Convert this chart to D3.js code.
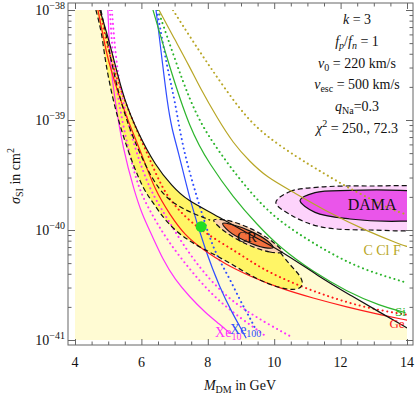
<!DOCTYPE html>
<meta charset="utf-8">
<head>
<title>Light dark matter: sigma_SI vs M_DM</title>
<script src="https://d3js.org/d3.v7.min.js"></script>
<style>
  body { margin: 0; background: #fff; }
  text { font-family: "Liberation Serif", "DejaVu Serif", serif; fill: #111; }
</style>
</head>
<body>
<div id="chart"></div>
<script>
// every point is [M_DM in GeV, log10(sigma_SI / cm^2)]

// upper edge of the allowed (light yellow) area
let exclusion = [[4.75,-38.00],[4.96,-38.21],[5.17,-38.45],[5.48,-38.82],[5.90,-39.12],[6.41,-39.41],[6.92,-39.60],[7.37,-39.73],[8.16,-39.85],[9.12,-40.02],[10.17,-40.18],[11.38,-40.43],[12.28,-40.59],[13.19,-40.75],[14.00,-40.89]];

// bright yellow 3 sigma band, left/bottom dashed edge
let band = [[4.63,-38.00],[4.81,-38.21],[4.90,-38.45],[5.14,-38.82],[5.42,-39.12],[5.75,-39.41],[6.08,-39.64],[6.35,-39.75],[6.77,-39.94],[7.37,-40.09],[7.92,-40.18],[8.67,-40.30],[9.48,-40.45],[10.17,-40.53],[10.69,-40.55],[10.90,-40.50],[10.78,-40.41],[10.48,-40.32],[10.17,-40.20]];
let bandInner = [[4.78,-38.00],[4.93,-38.21],[5.08,-38.45],[5.36,-38.82],[5.69,-39.12],[6.11,-39.41],[6.53,-39.64],[7.01,-39.77],[7.55,-39.85],[8.07,-39.91]];

// CR contours
let crOuter = [[10.24,-40.20],[9.87,-40.20],[9.11,-40.12],[8.41,-39.99],[8.18,-39.91],[8.55,-39.91],[9.31,-39.99],[10.01,-40.12]];
let crInner = [[9.97,-40.16],[9.70,-40.16],[9.14,-40.10],[8.63,-40.01],[8.45,-39.94],[8.72,-39.95],[9.28,-40.01],[9.80,-40.10]];

// DAMA contours
let damaOuter = [[10.05,-39.75],[10.48,-39.65],[11.38,-39.61],[12.89,-39.60],[14.69,-39.62],[15.75,-39.78],[14.69,-39.98],[12.89,-40.00],[11.38,-39.97],[10.54,-39.87]];
let damaInner = [[10.78,-39.73],[11.23,-39.66],[12.28,-39.64],[13.79,-39.64],[14.99,-39.67],[15.60,-39.78],[14.99,-39.89],[13.79,-39.92],[12.28,-39.90],[11.23,-39.84]];

// exclusion limits
let xe10 = [[4.99,-38.00],[5.05,-38.45],[5.20,-38.82],[5.45,-39.27],[5.78,-39.64],[6.02,-39.86],[6.32,-40.05],[6.65,-40.27],[7.01,-40.45],[7.46,-40.61],[7.92,-40.75],[8.37,-40.86],[8.67,-40.94]];
let xe10a = [[5.05,-38.00],[5.14,-38.45],[5.30,-38.82],[5.60,-39.27],[5.93,-39.64],[6.32,-39.86],[6.77,-40.09],[7.46,-40.36],[8.07,-40.57],[8.67,-40.73],[9.36,-40.88],[9.72,-40.96]];
let xe10b = [[5.11,-38.00],[5.23,-38.45],[5.42,-38.82],[5.81,-39.27],[6.26,-39.64],[6.71,-39.86],[7.16,-40.09],[7.77,-40.35],[8.37,-40.55],[8.97,-40.70],[9.78,-40.85],[10.57,-40.98]];
let xe100 = [[6.44,-38.00],[6.65,-38.52],[6.77,-38.82],[6.92,-39.09],[7.10,-39.27],[7.46,-39.73],[7.92,-40.18],[8.37,-40.53],[8.73,-40.75],[8.97,-40.88],[9.15,-40.98]];
let xe100b = [[6.47,-38.00],[6.77,-38.52],[7.01,-38.82],[7.25,-39.27],[7.70,-39.73],[8.16,-40.18],[8.61,-40.41],[8.97,-40.64],[9.27,-40.80],[9.42,-40.89]];
let si = [[6.35,-38.00],[6.80,-38.47],[7.46,-39.09],[8.07,-39.41],[8.76,-39.70],[9.48,-39.95],[10.17,-40.16],[11.17,-40.38],[12.19,-40.56],[13.19,-40.69],[13.94,-40.75]];
let siDot = [[6.50,-38.00],[7.01,-38.45],[7.46,-38.82],[7.89,-39.09],[8.58,-39.39],[9.18,-39.62],[9.87,-39.85],[10.69,-40.03],[11.68,-40.21],[12.67,-40.36],[14.00,-40.48]];
let ccif = [[6.53,-38.00],[7.01,-38.27],[7.46,-38.52],[7.77,-38.71],[8.28,-38.98],[8.76,-39.21],[9.27,-39.38],[9.78,-39.52],[10.48,-39.64],[11.68,-39.85],[12.80,-40.01],[13.79,-40.13],[14.00,-40.15]];
let ccifDot = [[6.95,-38.00],[7.52,-38.27],[8.07,-38.52],[8.97,-38.91],[9.63,-39.12],[10.69,-39.34],[11.47,-39.48],[12.19,-39.61],[12.98,-39.73],[13.58,-39.82],[14.00,-39.86]];
let ge = [[4.69,-38.00],[4.87,-38.27],[4.99,-38.45],[5.36,-38.82],[5.75,-39.12],[6.02,-39.32],[6.41,-39.64],[6.86,-39.86],[7.31,-40.05],[7.86,-40.18],[8.52,-40.31],[9.27,-40.42],[10.17,-40.53],[11.17,-40.62],[12.19,-40.70],[13.19,-40.77],[14.00,-40.82]];
let geDot = [[4.75,-38.00],[4.93,-38.27],[5.08,-38.45],[5.48,-38.82],[5.90,-39.12],[6.26,-39.36],[6.65,-39.64],[7.16,-39.84],[7.86,-40.02],[8.88,-40.20],[9.66,-40.36],[10.69,-40.50],[11.68,-40.61],[12.67,-40.70],[13.58,-40.75],[14.00,-40.77]];

let bestFit = [7.80, -39.97];

let xMajor = [4, 6, 8, 10, 12, 14];
let yDecades = [-41, -40, -39, -38];

let w = 417;
let h = 395;

let x = d3.scaleLinear().domain([4, 14]).range([75, 407]);
let y = d3.scaleLog().domain([1e-41, 1e-38]).range([340, 10]);
let py = (L) => y(Math.pow(10, L));

let svg = d3.select("#chart")
            .append("svg")
            .attr("width", w)
            .attr("height", h);

svg.append("clipPath")
   .attr("id", "plot")
   .append("rect")
   .attr("x", x(4))
   .attr("y", y(1e-38))
   .attr("width", x(14) - x(4))
   .attr("height", y(1e-41) - y(1e-38));

let line = d3.line().x((d) => x(d[0])).y((d) => py(d[1])).curve(d3.curveBasis);
let loop = d3.line().x((d) => x(d[0])).y((d) => py(d[1])).curve(d3.curveCatmullRomClosed);

let g = svg.append("g").attr("clip-path", "url(#plot)");

// allowed area below the black curve
g.append("path")
 .attr("d", line(exclusion) + "L" + x(14) + "," + y(1e-41) + "L" + x(4) + "," + y(1e-41) + "L" + x(4) + "," + y(1e-38) + "Z")
 .attr("fill", "#fffbd3");

// bright band
let back = exclusion.filter((d) => d[0] <= 10.17).reverse();
g.append("path")
 .attr("d", line(band) + line(back).replace("M", "L") + "Z")
 .attr("fill", "#fff566");

// regions
g.append("path").attr("d", loop(crOuter)).attr("fill", "#fbcfae").attr("stroke", "#111").attr("stroke-width", 1.2).attr("stroke-dasharray", "5,3");
g.append("path").attr("d", loop(crInner)).attr("fill", "#f2703e").attr("stroke", "#111").attr("stroke-width", 1.2);
g.append("path").attr("d", loop(damaOuter)).attr("fill", "#fdd3fb").attr("stroke", "#111").attr("stroke-width", 1.2).attr("stroke-dasharray", "5,3");
g.append("path").attr("d", loop(damaInner)).attr("fill", "#ea55ea").attr("stroke", "#111").attr("stroke-width", 1.2);

// limit curves
let curves = [
  [xe10, "#ff30ff", false], [xe10a, "#ff30ff", true], [xe10b, "#ff30ff", true],
  [xe100, "#2f4dff", false], [xe100b, "#2f4dff", true],
  [si, "#2db52d", false], [siDot, "#2db52d", true],
  [ccif, "#b8a626", false], [ccifDot, "#b8a626", true],
  [ge, "#ff1a1a", false], [geDot, "#ff1a1a", true]
];

g.selectAll(".limit")
 .data(curves)
 .enter()
 .append("path")
 .attr("class", "limit")
 .attr("d", (d) => line(d[0]))
 .attr("fill", "none")
 .attr("stroke", (d) => d[1])
 .attr("stroke-width", (d) => d[2] ? 2 : 1.2)
 .attr("stroke-linecap", "round")
 .attr("stroke-dasharray", (d) => d[2] ? "0.1,4.6" : null);

g.append("path").attr("d", line(exclusion)).attr("fill", "none").attr("stroke", "#111").attr("stroke-width", 1.2);
g.append("path").attr("d", line(band)).attr("fill", "none").attr("stroke", "#111").attr("stroke-width", 1.2).attr("stroke-dasharray", "5,3");
g.append("path").attr("d", line(bandInner)).attr("fill", "none").attr("stroke", "#111").attr("stroke-width", 1.2).attr("stroke-dasharray", "5,3");

g.append("circle")
 .attr("cx", x(bestFit[0]))
 .attr("cy", py(bestFit[1]))
 .attr("r", 5.5)
 .attr("fill", "#22dd22");

// labels in the plot
svg.append("text").attr("x", x(12.95)).attr("y", py(-39.77)).attr("dy", "0.35em").attr("text-anchor", "middle").style("font-size", "16px").text("DAMA");
svg.append("text").attr("x", x(9.18)).attr("y", py(-40.06)).attr("dy", "0.35em").attr("text-anchor", "middle").style("font-size", "15px").text("CR");
svg.append("text").attr("x", x(13.25)).attr("y", py(-40.18)).attr("dy", "0.35em").attr("text-anchor", "middle").style("font-size", "14px").style("fill", "#b8a626").text("C Cl F");
svg.append("text").attr("x", x(13.8)).attr("y", py(-40.74)).attr("dy", "0.35em").attr("text-anchor", "middle").style("font-size", "13px").style("fill", "#2db52d").text("Si");
svg.append("text").attr("x", x(13.7)).attr("y", py(-40.85)).attr("dy", "0.35em").attr("text-anchor", "middle").style("font-size", "13px").style("fill", "#ff1a1a").text("Ge");

let xe = svg.append("text").attr("x", x(8.22)).attr("y", py(-40.97)).style("font-size", "14px").style("fill", "#ff30ff");
xe.append("tspan").text("Xe");
xe.append("tspan").attr("dy", 3).style("font-size", "10px").text("10");
let xb = svg.append("text").attr("x", x(8.67)).attr("y", py(-40.945)).style("font-size", "14px").style("fill", "#2f4dff");
xb.append("tspan").text("Xe");
xb.append("tspan").attr("dy", 3).style("font-size", "10px").text("100");

// frame and ticks
let frame = { x0: 68, x1: 413, y0: 3, y1: 345 };
let tickColor = "#666";

let xMinor = d3.range(4, 14.01, 0.5).filter((v) => xMajor.indexOf(v) < 0);
let yMinor = [];
yDecades.slice(0, 3).forEach((e) => { for (let k = 2; k <= 9; k++) yMinor.push(k * Math.pow(10, e)); });
let yMajor = yDecades.map((e) => Math.pow(10, e));

function tickAxis(axis, pos, values, size) {
  let a = svg.append("g")
             .attr("transform", pos)
             .call(axis.tickValues(values).tickSize(-size).tickFormat(""));
  a.select(".domain").remove();
  a.selectAll("line").attr("stroke", tickColor);
}

tickAxis(d3.axisBottom(x), "translate(0," + frame.y1 + ")", xMajor, 6);
tickAxis(d3.axisBottom(x), "translate(0," + frame.y1 + ")", xMinor, 3.5);
tickAxis(d3.axisTop(x), "translate(0," + frame.y0 + ")", xMajor, 6);
tickAxis(d3.axisTop(x), "translate(0," + frame.y0 + ")", xMinor, 3.5);
tickAxis(d3.axisLeft(y), "translate(" + frame.x0 + ",0)", yMajor, 7);
tickAxis(d3.axisLeft(y), "translate(" + frame.x0 + ",0)", yMinor, 3.5);
tickAxis(d3.axisRight(y), "translate(" + frame.x1 + ",0)", yMajor, 7);
tickAxis(d3.axisRight(y), "translate(" + frame.x1 + ",0)", yMinor, 3.5);

svg.append("rect")
   .attr("x", frame.x0)
   .attr("y", frame.y0)
   .attr("width", frame.x1 - frame.x0)
   .attr("height", frame.y1 - frame.y0)
   .attr("fill", "none")
   .attr("stroke", tickColor)
   .attr("stroke-width", 1);

svg.selectAll(".xlab")
   .data(xMajor)
   .enter()
   .append("text")
   .attr("class", "xlab")
   .attr("x", (d) => x(d))
   .attr("y", 367)
   .attr("text-anchor", "middle")
   .style("font-size", "14px")
   .text((d) => d);

let ylab = svg.selectAll(".ylab")
   .data(yDecades)
   .enter()
   .append("text")
   .attr("class", "ylab")
   .attr("x", 65)
   .attr("y", (d) => py(d) + 5)
   .attr("text-anchor", "end")
   .style("font-size", "14px");
ylab.append("tspan").text("10");
ylab.append("tspan").attr("dy", -6).style("font-size", "10px").text((d) => "\u2212" + (-d));

// axis titles
let xt = svg.append("text").attr("x", 240).attr("y", 390).attr("text-anchor", "middle").style("font-size", "14px");
xt.append("tspan").style("font-style", "italic").text("M");
xt.append("tspan").attr("dy", 3).style("font-size", "10px").text("DM");
xt.append("tspan").attr("dy", -3).text(" in GeV");

let yt = svg.append("text").attr("transform", "translate(20,176) rotate(-90)").attr("text-anchor", "middle").style("font-size", "14px");
yt.append("tspan").style("font-style", "italic").text("σ");
yt.append("tspan").attr("dy", 3).style("font-size", "10px").text("SI");
yt.append("tspan").attr("dy", -3).text(" in cm");
yt.append("tspan").attr("dy", -6).style("font-size", "10px").text("2");

// parameter block, top right: [text, style (i = italic, s = small), baseline shift]
let parts = [
  [["k", "i", 0], [" = 3", "", 0]],
  [["f", "i", 0], ["p", "is", 3], ["/", "", -3], ["f", "i", 0], ["n", "is", 3], [" = 1", "", -3]],
  [["v", "i", 0], ["0", "s", 3], [" = 220 km/s", "", -3]],
  [["v", "i", 0], ["esc", "s", 3], [" = 500 km/s", "", -3]],
  [["q", "i", 0], ["Na", "s", 3], ["=0.3", "", -3]],
  [["χ", "i", 0], ["2", "s", -6], [" = 250., 72.3", "", 6]]
];

let info = svg.selectAll(".info")
   .data(parts)
   .enter()
   .append("text")
   .attr("class", "info")
   .attr("x", 357)
   .attr("y", (d, i) => 24 + i * 21.8)
   .attr("text-anchor", "middle")
   .style("font-size", "14px");

info.selectAll("tspan")
    .data((d) => d)
    .enter()
    .append("tspan")
    .attr("dy", (d) => d[2])
    .style("font-style", (d) => d[1].indexOf("i") >= 0 ? "italic" : "normal")
    .style("font-size", (d) => d[1].indexOf("s") >= 0 ? "10px" : "14px")
    .text((d) => d[0]);
</script>
</body>
